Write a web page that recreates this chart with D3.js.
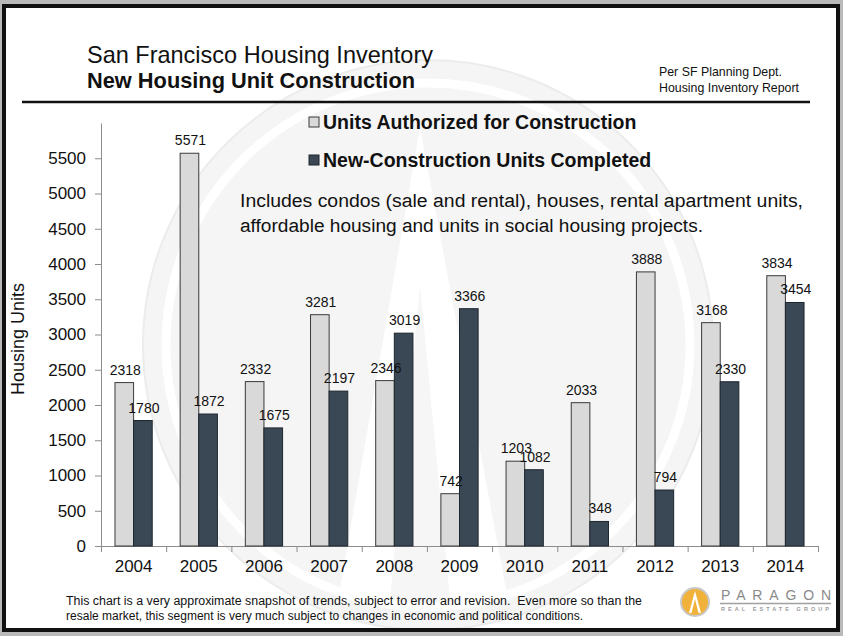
<!DOCTYPE html>
<html>
<head>
<meta charset="utf-8">
<script src="https://cdn.jsdelivr.net/npm/d3@7"></script>
<style>
  html, body { margin: 0; padding: 0; background: #b9b9b9; }
  svg { display: block; }
  text { font-family: "Liberation Sans", Arial, sans-serif; }
</style>
</head>
<body>
<div id="chart"></div>
<script>

// data
var years = ['2004', '2005', '2006', '2007', '2008', '2009', '2010', '2011', '2012', '2013', '2014'];
var authorized = [2318, 5571, 2332, 3281, 2346, 742, 1203, 2033, 3888, 3168, 3834];
var completed = [1780, 1872, 1675, 2197, 3019, 3366, 1082, 348, 794, 2330, 3454];
var yTicks = [0, 500, 1000, 1500, 2000, 2500, 3000, 3500, 4000, 4500, 5000, 5500];
var seriesNames = ['Units Authorized for Construction', 'New-Construction Units Completed'];
var noteLines = [
    'Includes condos (sale and rental), houses, rental apartment units,',
    'affordable housing and units in social housing projects.'
];
var footLines = [
    'This chart is a very approximate snapshot of trends, subject to error and revision.  Even more so than the',
    'resale market, this segment is very much subject to changes in economic and political conditions.'
];

var width = 843,
    height = 636;

var colors = [ '#d9d9d9', '#3a4856' ];
var strokes = [ '#3a3a3a', '#1e262e' ];

var svg = d3.select('#chart').append('svg')
    .attr('width', width)
    .attr('height', height);

/* frame */

svg.append('rect')
    .attr('width', width)
    .attr('height', height)
    .attr('fill', '#b9b9b9');

svg.append('rect')
    .attr('x', 4)
    .attr('y', 6)
    .attr('width', 834)
    .attr('height', 624)
    .attr('fill', '#ffffff');

/* faint logo watermark */

var wm = svg.append('g').attr('transform', 'translate(428,345)');

wm.append('circle')
    .attr('r', 285)
    .attr('fill', '#f5f5f5')
    .attr('stroke', '#ececec')
    .attr('stroke-width', 2);

wm.append('circle')
    .attr('r', 262)
    .attr('fill', 'none')
    .attr('stroke', '#ffffff')
    .attr('stroke-width', 9);

wm.append('path')
    .attr('d', 'M-8,-218 L-90,255 L80,255 Z')
    .attr('fill', '#ffffff');

wm.append('path')
    .attr('d', 'M-8,-60 L-38,255 L22,255 Z')
    .attr('fill', '#f6f6f6');

// cover the watermark outside the white panel
svg.append('path')
    .attr('d', 'M0,0 H843 V636 H0 Z M6,8 V628 H836 V8 Z')
    .attr('fill-rule', 'evenodd')
    .attr('fill', '#b9b9b9');

svg.append('rect')
    .attr('x', 4)
    .attr('y', 6)
    .attr('width', 834)
    .attr('height', 624)
    .attr('fill', 'none')
    .attr('stroke', '#111111')
    .attr('stroke-width', 4);

/* header */

var narrow = '"Liberation Sans Narrow", "Arial Narrow", "Liberation Sans", sans-serif';

svg.append('text')
    .attr('x', 87)
    .attr('y', 63)
    .attr('textLength', 346)
    .attr('lengthAdjust', 'spacingAndGlyphs')
    .style('font-family', narrow)
    .style('font-size', '24px')
    .style('fill', '#111')
    .text('San Francisco Housing Inventory');

svg.append('text')
    .attr('x', 87)
    .attr('y', 88)
    .attr('textLength', 328)
    .attr('lengthAdjust', 'spacingAndGlyphs')
    .style('font-family', narrow)
    .style('font-size', '22px')
    .style('font-weight', 'bold')
    .style('fill', '#111')
    .text('New Housing Unit Construction');

svg.append('text')
    .attr('x', 659)
    .attr('y', 76)
    .attr('textLength', 123)
    .attr('lengthAdjust', 'spacingAndGlyphs')
    .style('font-family', narrow)
    .style('font-size', '13px')
    .style('fill', '#111')
    .text('Per SF Planning Dept.');

svg.append('text')
    .attr('x', 659)
    .attr('y', 92)
    .attr('textLength', 140)
    .attr('lengthAdjust', 'spacingAndGlyphs')
    .style('font-family', narrow)
    .style('font-size', '13px')
    .style('fill', '#111')
    .text('Housing Inventory Report');

svg.append('line')
    .attr('x1', 22)
    .attr('x2', 810)
    .attr('y1', 102)
    .attr('y2', 102)
    .attr('stroke', '#111')
    .attr('stroke-width', 2.5);

/* scales */

var x = d3.scaleBand()
    .domain( years )
    .range([ 101, 818 ]);

var xSub = d3.scaleBand()
    .domain([ 0, 1 ])
    .range([ 0, x.bandwidth() ])
    .paddingOuter( 0.75 );

var y = d3.scaleLinear()
    .domain([ 0, 6000 ])
    .range([ 546, 123 ]);

/* axes */

var yAxis = svg.append('g')
    .attr('transform', 'translate(101,0)')
    .call( d3.axisLeft( y )
        .tickValues( yTicks )
        .tickFormat( d3.format('d') )
        .tickSize( 6 )
        .tickSizeOuter( 0 )
        .tickPadding( 9 ) );

yAxis.select('.domain').attr('stroke', '#8c8c8c');
yAxis.selectAll('.tick line').attr('stroke', '#8c8c8c');
yAxis.selectAll('.tick text')
    .style('font-size', '17px')
    .style('fill', '#111')
    .style('font-family', '"Liberation Sans", Arial, sans-serif');

var xEdge = d3.scaleLinear()
    .domain([ 0, years.length ])
    .range([ 101, 818 ]);

var xTicks = svg.append('g')
    .attr('transform', 'translate(0,546)')
    .call( d3.axisBottom( xEdge )
        .tickValues( d3.range( years.length + 1 ) )
        .tickSize( 6 )
        .tickSizeOuter( 0 )
        .tickFormat('') );

xTicks.select('.domain').attr('stroke', '#8c8c8c');
xTicks.selectAll('.tick line').attr('stroke', '#8c8c8c');

var xAxis = svg.append('g')
    .attr('transform', 'translate(0,546)')
    .call( d3.axisBottom( x ).tickSize( 0 ).tickPadding( 14 ) );

xAxis.select('.domain').remove();
xAxis.selectAll('.tick text')
    .style('font-size', '17px')
    .style('fill', '#111')
    .style('font-family', '"Liberation Sans", Arial, sans-serif');

svg.append('text')
    .attr('transform', 'translate(24,339) rotate(-90)')
    .attr('text-anchor', 'middle')
    .style('font-size', '18px')
    .style('fill', '#111')
    .text('Housing Units');

/* bars */

var series = [ authorized, completed ];

var groups = svg.selectAll('.year')
    .data( years )
    .enter().append('g')
    .attr('class', 'year')
    .attr('transform', function ( d ) { return 'translate(' + x( d ) + ',0)'; });

series.forEach( function ( values, s ) {

    groups.append('rect')
        .attr('x', xSub( s ))
        .attr('y', function ( d, i ) { return y( values[ i ] ); })
        .attr('width', xSub.bandwidth())
        .attr('height', function ( d, i ) { return y( 0 ) - y( values[ i ] ); })
        .attr('fill', colors[ s ])
        .attr('stroke', strokes[ s ])
        .attr('stroke-width', 1);

});

series.forEach( function ( values, s ) {

    groups.append('text')
        .attr('x', xSub( s ) + xSub.bandwidth() / 2 + 1)
        .attr('y', function ( d, i ) { return y( values[ i ] ) - 8; })
        .attr('text-anchor', 'middle')
        .style('font-size', '14px')
        .style('fill', '#111')
        .text( function ( d, i ) { return values[ i ]; });

});

/* legend */

var legend = svg.selectAll('.legend')
    .data( seriesNames )
    .enter().append('g')
    .attr('class', 'legend')
    .attr('transform', function ( d, i ) { return 'translate(309,' + ( 117 + i * 38 ) + ')'; });

legend.append('rect')
    .attr('width', 10)
    .attr('height', 10)
    .attr('fill', function ( d, i ) { return colors[ i ]; })
    .attr('stroke', function ( d, i ) { return strokes[ i ]; });

legend.append('text')
    .attr('x', 14)
    .attr('y', 12)
    .style('font-size', '19.5px')
    .style('font-weight', 'bold')
    .style('fill', '#111')
    .text( function ( d ) { return d; });

/* note */

var noteWidths = [ 563, 463 ];

svg.selectAll('.note')
    .data( noteLines )
    .enter().append('text')
    .attr('class', 'note')
    .attr('x', 240)
    .attr('y', function ( d, i ) { return 207 + i * 25; })
    .attr('textLength', function ( d, i ) { return noteWidths[ i ]; })
    .attr('lengthAdjust', 'spacingAndGlyphs')
    .style('font-size', '18px')
    .style('fill', '#111')
    .text( function ( d ) { return d; });

/* footnote */

var footWidths = [ 576, 517 ];

svg.selectAll('.foot')
    .data( footLines )
    .enter().append('text')
    .attr('class', 'foot')
    .attr('x', 66)
    .attr('y', function ( d, i ) { return 605 + i * 15; })
    .attr('textLength', function ( d, i ) { return footWidths[ i ]; })
    .attr('lengthAdjust', 'spacingAndGlyphs')
    .style('white-space', 'pre')
    .style('font-size', '12px')
    .style('fill', '#111')
    .text( function ( d ) { return d; });

/* paragon logo */

var logo = svg.append('g').attr('transform', 'translate(695,602)');

logo.append('circle')
    .attr('r', 14)
    .attr('fill', '#f0b23a')
    .attr('stroke', '#c8c8c8')
    .attr('stroke-width', 2);

logo.append('path')
    .attr('d', 'M0,-11 L-6,11 L-3.5,11 L0,-3 L3.5,11 L6,11 Z')
    .attr('fill', '#ffffff');

svg.append('text')
    .attr('x', 721)
    .attr('y', 600)
    .attr('textLength', 110)
    .attr('lengthAdjust', 'spacing')
    .style('font-size', '14px')
    .style('fill', '#8a8a8a')
    .text('PARAGON');

svg.append('line')
    .attr('x1', 720)
    .attr('x2', 831)
    .attr('y1', 603.5)
    .attr('y2', 603.5)
    .attr('stroke', '#a0a0a0')
    .attr('stroke-width', 1.5);

svg.append('text')
    .attr('x', 721)
    .attr('y', 610.5)
    .attr('textLength', 108)
    .attr('lengthAdjust', 'spacing')
    .style('font-size', '5.5px')
    .style('font-weight', 'bold')
    .style('fill', '#9a9a9a')
    .text('REAL ESTATE GROUP');

</script>
</body>
</html>
